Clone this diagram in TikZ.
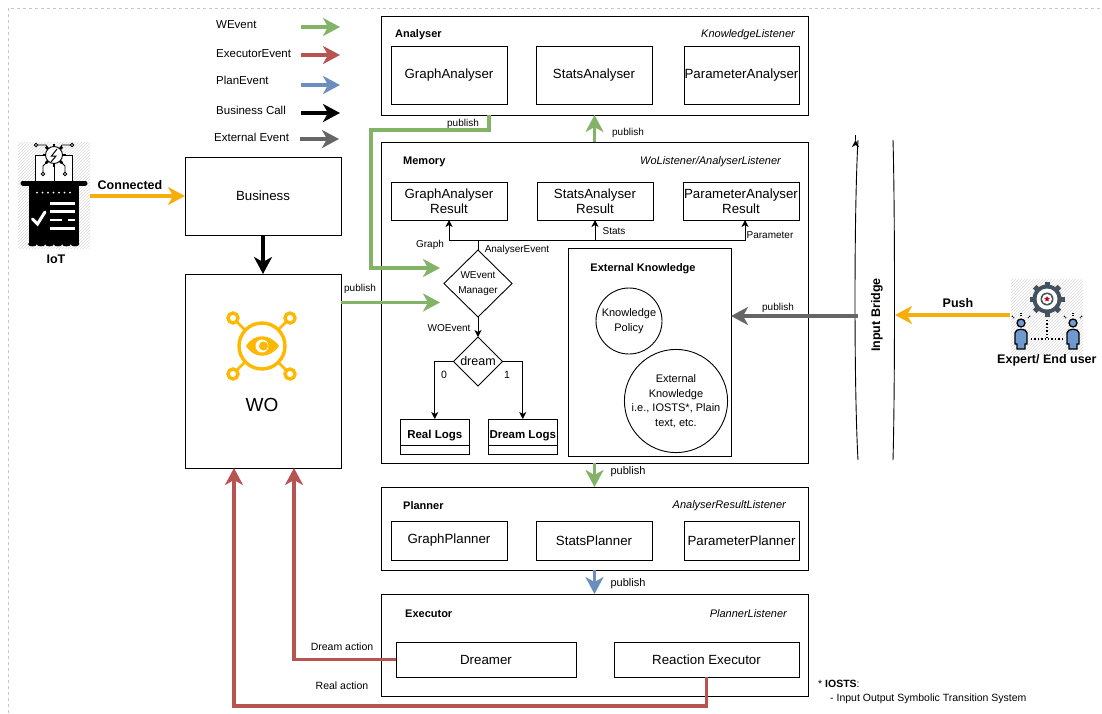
\documentclass[tikz,border=0pt]{standalone}
\usepackage{fontspec}
\setmainfont{Liberation Sans}
\usetikzlibrary{positioning,calc,arrows.meta,shapes.geometric,patterns}

\definecolor{flowgreen}{HTML}{82B366}
\definecolor{flowred}{HTML}{B85450}
\definecolor{flowblue}{HTML}{6C8EBF}
\definecolor{flowgray}{HTML}{666666}
\definecolor{floworange}{HTML}{F5AE0C}
\definecolor{eyeyellow}{HTML}{FFB800}
\definecolor{gearslate}{HTML}{44515F}
\definecolor{userblue}{HTML}{6F9AD0}

\tikzset{
    box/.style={draw, line width=0.9pt, inner sep=0pt, outer sep=0pt, align=center, font=\fontsize{13.3}{15.5}\selectfont},
    panel/.style={box, minimum width=427pt},
    inner/.style={box, minimum width=116pt},
    logbox/.style={box, minimum width=68.5pt, minimum height=35pt, font=\fontsize{11.5}{13}\selectfont\bfseries},
    decide/.style={draw, diamond, line width=0.9pt, inner sep=0pt, outer sep=0pt, align=center},
    ball/.style={draw, circle, line width=0.9pt, inner sep=0pt, outer sep=0pt, align=center, font=\fontsize{11}{14.5}\selectfont},
    title/.style={inner sep=0pt, anchor=west, font=\fontsize{11}{13}\selectfont\bfseries},
    listener/.style={inner sep=0pt, anchor=east, font=\fontsize{11}{13}\selectfont\itshape},
    legend/.style={inner sep=0pt, anchor=west, font=\fontsize{11.5}{13}\selectfont},
    tag/.style={inner sep=0pt, font=\fontsize{10}{12}\selectfont},
    strong/.style={inner sep=0pt, font=\fontsize{12.5}{14}\selectfont\bfseries},
    flow/.style={line width=3.6pt, -{Stealth[length=17pt,width=18pt,inset=5pt]}},
    thin/.style={line width=0.9pt, -{Stealth[length=7pt,width=7pt,inset=2pt]}},
}

\begin{document}
\begin{tikzpicture}[x=1pt,y=-1pt]
    \useasboundingbox (0,0) rectangle (1102,713);
    \draw [black!22, line width=0.8pt, dash pattern=on 3pt off 3pt] (8,8) rectangle (1130,740);

    \node (LgWe) [legend] at (216,25) {WEvent};
    \node (LgEx) [legend] at (216,54) {ExecutorEvent};
    \node (LgPl) [legend] at (216,80) {PlanEvent};
    \node (LgBu) [legend] at (216,110) {Business Call};
    \node (LgEt) [legend] at (214,137) {External Event};
    \coordinate (LgWeA) at (301,27);
    \coordinate (LgWeB) at (340,27);
    \coordinate (LgExA) at (301,55);
    \coordinate (LgExB) at (340,55);
    \coordinate (LgPlA) at (301,85);
    \coordinate (LgPlB) at (340,85);
    \coordinate (LgBuA) at (301,113);
    \coordinate (LgBuB) at (340,113);
    \coordinate (LgEtA) at (300,139);
    \coordinate (LgEtB) at (339,139);
    \draw [flow, flowgreen] (LgWeA) -- (LgWeB);
    \draw [flow, flowred] (LgExA) -- (LgExB);
    \draw [flow, flowblue] (LgPlA) -- (LgPlB);
    \draw [flow, black] (LgBuA) -- (LgBuB);
    \draw [flow, flowgray] (LgEtA) -- (LgEtB);

    \node (Bus) [box, minimum width=156pt, minimum height=78pt] at (263,196) {Business};
    \node (WO) [box, minimum width=156pt, minimum height=194pt] at (263,371) {};
    \node (WOName) [inner sep=0pt, font=\fontsize{19}{21}\selectfont] at (262,405) {WO};

    \node (Ana) [panel, minimum height=99pt] at (594.5,65.5) {};
    \node (AnaName) [title] at (395,35) {Analyser};
    \node (AnaListen) [listener] at (795,35) {KnowledgeListener};
    \node (GA) [inner, minimum height=58pt] at (449,75) {GraphAnalyser};
    \node (SA) [inner, minimum height=58pt, right=29pt of GA] {StatsAnalyser};
    \node (PA) [inner, minimum height=58pt, right=32pt of SA, minimum width=115pt] {ParameterAnalyser};

    \node (Mem) [panel, minimum height=321pt] at (594.5,302.5) {};
    \node (MemName) [title] at (403,162) {Memory};
    \node (MemListen) [listener] at (781,162) {WoListener/AnalyserListener};
    \node (GAR) [inner, minimum height=38pt] at (449,201) {GraphAnalyser\\Result};
    \node (SAR) [inner, minimum height=38pt, right=30pt of GAR] {StatsAnalyser\\Result};
    \node (PAR) [inner, minimum height=38pt, right=30pt of SAR] {ParameterAnalyser\\Result};
    \node (Man) [decide, minimum width=68pt, minimum height=67pt, font=\fontsize{10}{15}\selectfont] at (478,283.5) {WEvent\\Manager};
    \node (Dream) [decide, minimum width=49pt, minimum height=49pt, font=\fontsize{12.5}{14}\selectfont, below=20pt of Man] {dream};
    \node (RL) [logbox] at (434.75,436.5) {\raisebox{4.5pt}{Real Logs}};
    \node (DL) [logbox, right=19.5pt of RL] {\raisebox{4.5pt}{Dream Logs}};
    \node (ExK) [box, minimum width=163pt, minimum height=208pt] at (649.5,352) {};
    \node (ExKName) [title, anchor=center] at (643,269) {External Knowledge};
    \node (KP) [ball, minimum size=66pt] at (629,321) {Knowledge\\Policy};
    \node (EK) [ball, minimum size=98pt] at (676,401) {External\\Knowledge\\i.e., IOSTS*, Plain\\text, etc.};
    \draw [line width=0.9pt] ([yshift=9pt]RL.south west) -- ([yshift=9pt]RL.south east);
    \draw [line width=0.9pt] ([yshift=9pt]DL.south west) -- ([yshift=9pt]DL.south east);

    \node (Pla) [panel, minimum height=83pt] at (594.5,528.5) {};
    \node (PlaName) [title] at (403,506) {Planner};
    \node (PlaListen) [listener] at (786,506) {AnalyserResultListener};
    \node (GP) [inner, minimum height=39pt] at (449,540.5) {GraphPlanner};
    \node (SP) [inner, minimum height=39pt, right=29pt of GP] {StatsPlanner};
    \node (PP) [inner, minimum height=39pt, right=32pt of SP, minimum width=115pt] {ParameterPlanner};

    \node (Exe) [panel, minimum height=102pt] at (594.5,645) {};
    \node (ExeName) [title] at (405,614) {Executor};
    \node (ExeListen) [listener] at (787,614) {PlannerListener};
    \node (Dreamer) [box, minimum width=180pt, minimum height=35pt] at (486,659.5) {Dreamer};
    \node (ReEx) [box, minimum width=185pt, minimum height=35pt] at (706.5,659.5) {Reaction Executor};

    \draw [thin, line width=0.9pt] (855.5,140) -- (855.5,140);
    \node (Bridge) [strong, rotate=90] at (877,315) {Input Bridge};
    \draw [line width=0.9pt] (858,140) .. controls (854,210) and (854,390) .. (858,460);
    \draw [line width=0.9pt] (893,140) .. controls (895,210) and (895,390) .. (893,460);

    \coordinate (WOOut) at (341,302.5);
    \coordinate (ManInA) at (440,302.5);
    \coordinate (ManInB) at (440,268);
    \coordinate (AnaOut) at (489,115);
    \coordinate (AnaTurn) at (371,130);
    \coordinate (IotOut) at (90,196);
    \coordinate (PushOut) at (1010,315);
    \coordinate (PushIn) at (895,315);
    \coordinate (BridgeOut) at (858,316);
    \coordinate (RealTurn) at (234,706);
    \coordinate (RealIn) at (234,468);
    \coordinate (DreamIn) at (294,468);
    \coordinate (Fork) at (478,240);

    \draw [flow, floworange] (IotOut) -- (Bus.west);
    \draw [flow, black] (Bus) edge (WO);
    \draw [flow, flowgreen] (WOOut) -- (ManInA);
    \draw [flow, flowgreen] (AnaOut) |- (AnaTurn) |- (ManInB);
    \draw [flow, flowgreen] (Mem.north) -- (Ana.south);
    \draw [flow, flowgreen] (Mem.south) -- (Pla.north);
    \draw [flow, flowblue] (Pla.south) -- (Exe.north);
    \draw [flow, flowgray] (BridgeOut) -- (BridgeOut -| ExK.east);
    \draw [flow, floworange] (PushOut) -- (PushIn);
    \draw [flow, flowred] (Dreamer.west) -| (DreamIn);
    \draw [flow, flowred] (ReEx.south) |- (RealTurn) -- (RealIn);

    \draw [line width=0.9pt] (Man.north) -- (Fork);
    \draw [thin] (Fork) -| (GAR.south);
    \draw [thin] (Fork) -| (SAR.south);
    \draw [thin] (Fork) -| ([xshift=4pt]PAR.south);
    \draw [thin] (Man.south) -- (Dream.north);
    \draw [thin] (Dream.west) -| (RL.north);
    \draw [thin] (Dream.east) -| (DL.north);

    \node (LbGraph) [tag] at (430,245) {Graph};
    \node (LbEvent) [tag] at (517,250) {AnalyserEvent};
    \node (LbStats) [tag] at (614,231) {Stats};
    \node (LbParam) [tag] at (770,235) {Parameter};
    \node (LbWO) [tag] at (449,328) {WOEvent};
    \node (LbZero) [tag, font=\fontsize{10.5}{12}\selectfont] at (444,375) {0};
    \node (LbOne) [tag, font=\fontsize{10.5}{12}\selectfont] at (507,375) {1};
    \node (LbPubA) [tag] at (463,124) {publish};
    \node (LbPubB) [tag] at (628,133) {publish};
    \node (LbPubC) [tag] at (360,289) {publish};
    \node (LbPubD) [tag] at (778,308) {publish};
    \node (LbPubE) [tag, font=\fontsize{11}{12}\selectfont] at (628,472) {publish};
    \node (LbPubF) [tag, font=\fontsize{11}{12}\selectfont] at (628,584) {publish};
    \node (LbDream) [tag, font=\fontsize{10.5}{12}\selectfont] at (342,647) {Dream action};
    \node (LbReal) [tag, font=\fontsize{10.5}{12}\selectfont] at (342,686) {Real action};
    \node (LbConn) [strong] at (130,185) {Connected};
    \node (LbPush) [strong] at (958,303) {Push};
    \node (LbIot) [strong] at (56,259) {IoT};
    \node (LbExpert) [strong, anchor=west] at (997,360.5) {Expert/ End user};
    \node (NoteA) [inner sep=0pt, anchor=west, font=\fontsize{10.5}{12}\selectfont] at (818,684) {* \textbf{IOSTS}:};
    \node (NoteB) [inner sep=0pt, anchor=west, font=\fontsize{10.5}{12}\selectfont] at (830,699) {- Input Output Symbolic Transition System};

    \draw [eyeyellow, line width=3.4pt] (262,346) circle (23);
    \draw [eyeyellow, line width=3.4pt] (233,318) circle (5);
    \draw [eyeyellow, line width=3.4pt] (290,318) circle (5);
    \draw [eyeyellow, line width=3.4pt] (233,374) circle (5);
    \draw [eyeyellow, line width=3.4pt] (290,374) circle (5);
    \draw [eyeyellow, line width=2.6pt] (237,322) -- (245,330);
    \draw [eyeyellow, line width=2.6pt] (286,322) -- (278,330);
    \draw [eyeyellow, line width=2.6pt] (237,370) -- (245,362);
    \draw [eyeyellow, line width=2.6pt] (286,370) -- (278,362);
    \fill [eyeyellow] (246,346) .. controls (254,333) and (270,333) .. (279,346) .. controls (270,359) and (254,359) .. (246,346) -- cycle;
    \fill [white] (262,346) circle (6.5);
    \fill [eyeyellow] (263.5,346) circle (4.5);

    \fill [pattern=north east lines, pattern color=black!14] (18,142) rectangle (90,248);
    \draw [line width=0.9pt, fill=white] (35,155) rectangle (72,182);
    \foreach \a in {0,45,...,315} {
        \draw [line width=2.6pt] ($(54,155)+(\a:8)$) -- ($(54,155)+(\a:11.5)$);
    }
    \draw [line width=0.9pt, fill=white] (54,155) circle (8.5);
    \draw [line width=1pt] (57,149) -- (51.5,156) -- (56,156) -- (51,162);
    \draw [line width=0.8pt] (36,145) -- (46,145) -- (48,148);
    \draw [line width=0.8pt] (72,145) -- (62,145) -- (60,148);
    \draw [line width=0.8pt, fill=white] (36,145) circle (1.8);
    \draw [line width=0.8pt, fill=white] (72,145) circle (1.8);
    \draw [line width=0.8pt] (54,166) -- (54,182);
    \draw [line width=0.8pt] (47,162) -- (43,166) -- (43,172);
    \draw [line width=0.8pt] (61,162) -- (65,166) -- (65,172);
    \draw [line width=0.8pt, fill=white] (43,174) circle (1.8);
    \draw [line width=0.8pt, fill=white] (65,174) circle (1.8);
    \fill (29,185) rectangle (79,244);
    \foreach \x in {32.5,41,49.5,58,66.5,75} {
        \fill (\x,244) ellipse (4.4 and 2.4);
    }
    \draw [line width=5pt, line cap=round] (23,183) -- (85,183);
    \foreach \x in {37,42.5,...,72} {
        \fill [white] (\x,192.5) circle (1);
    }
    \draw [white, line width=2.2pt] (50,203.5) -- (75,203.5);
    \draw [white, line width=2.2pt] (50,211.5) -- (75,211.5);
    \draw [white, line width=2.2pt] (50,220) -- (62,220);
    \draw [white, line width=2.2pt] (68,220) -- (75,220);
    \draw [white, line width=2.2pt] (50,228.5) -- (75,228.5);
    \draw [white, line width=3pt, line cap=round] (32.5,219) -- (37.5,224) -- (45,212);

    \fill [pattern=north east lines, pattern color=black!14] (1011,279) rectangle (1083,354);
    \foreach \a in {0,45,...,315} {
        \draw [gearslate, line width=5pt] ($(1047,299)+(\a:12)$) -- ($(1047,299)+(\a:17.5)$);
    }
    \fill [gearslate] (1047,299) circle (14.5);
    \fill [white] (1047,299) circle (10.5);
    \fill [gearslate] (1047,299) circle (6.5);
    \fill [white] (1047,299) circle (5);
    \node (GearStar) [star, star points=5, star point ratio=2.2, fill=red!75!black, inner sep=0pt, minimum size=6pt] at (1047,299) {};
    \draw [line width=1.4pt, dotted] (1047,320) -- (1047,339);
    \draw [line width=1.4pt, dotted] (1031,339) -- (1064,339);
    \foreach \x in {1021,1073} {
        \draw [line width=1.3pt, fill=userblue] (\x,323) circle (4);
        \draw [line width=1.3pt, fill=userblue] (\x-4,349) -- (\x-4,344) -- (\x-6,344) -- (\x-6,333) .. controls (\x-6,328) and (\x+6,328) .. (\x+6,333) -- (\x+6,344) -- (\x+4,344) -- (\x+4,349) -- cycle;
        \draw [line width=1.1pt, densely dotted] (\x-9,316) -- (\x-7,318);
        \draw [line width=1.1pt, densely dotted] (\x,313) -- (\x,316);
        \draw [line width=1.1pt, densely dotted] (\x+9,316) -- (\x+7,318);
    }
\end{tikzpicture}
\end{document}
